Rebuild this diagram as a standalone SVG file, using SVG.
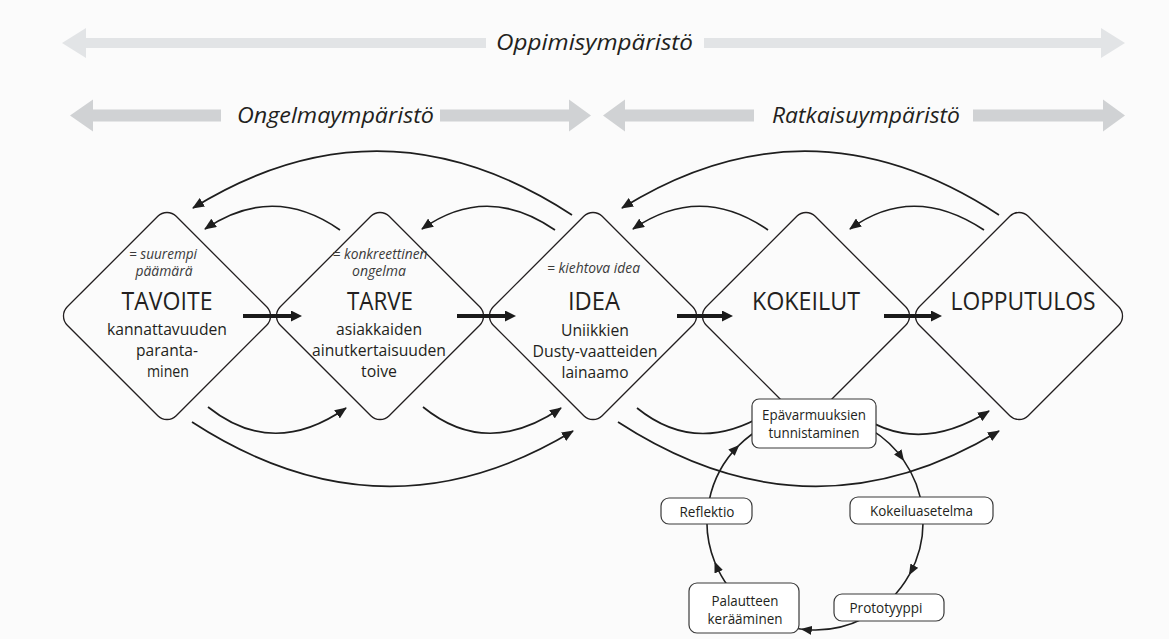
<svg xmlns="http://www.w3.org/2000/svg" width="1169" height="639" viewBox="0 0 1169 639">
  <defs>
    <style>
      text { font-family: "Open Sans", "Liberation Sans", sans-serif; fill: #231f20; text-anchor: middle; }
      .env-light { fill: #e2e4e6; }
      .env-dark { fill: #d0d2d4; }
      .t-env { font-size: 21px; font-style: italic; }
      .dia { fill: none; stroke: #231f20; stroke-width: 1.3; }
      .t-title { font-size: 26px; }
      .t-sub { font-size: 14px; font-style: italic; fill: #3a3a3a; }
      .t-body { font-size: 17px; }
      .arc { fill: none; stroke: #1e1e1e; stroke-width: 1.7; marker-end: url(#tip); }
      .cyc { fill: none; stroke: #1e1e1e; stroke-width: 1.6; marker-end: url(#tipS); }
      .flow { stroke: #1a1a1a; stroke-width: 4; marker-end: url(#flowHead); }
      .box { fill: #ffffff; stroke: #3a3a3a; stroke-width: 1.2; }
      .t-box { font-size: 14px; }
    </style>
    <marker id="tip" viewBox="0 0 12 10" refX="11" refY="5" markerWidth="12" markerHeight="10" orient="auto" markerUnits="userSpaceOnUse">
      <path d="M0,0 L12,5 L0,10 z" fill="#1e1e1e"/>
    </marker>
    <marker id="tipS" viewBox="0 0 11 9" refX="10" refY="4.5" markerWidth="11" markerHeight="9" orient="auto" markerUnits="userSpaceOnUse">
      <path d="M0,0 L11,4.5 L0,9 z" fill="#1e1e1e"/>
    </marker>
    <marker id="flowHead" viewBox="0 0 11 11" refX="0" refY="5.5" markerWidth="11" markerHeight="11" orient="auto" markerUnits="userSpaceOnUse">
      <path d="M0,0 L11,5.5 L0,11 z" fill="#1a1a1a"/>
    </marker>
  </defs>

  <rect width="1169" height="639" fill="#fbfbfb"/>

  <!-- environment bands -->
  <g id="env-oppimisymparisto">
    <polygon class="env-light" points="62,43 86,28 86,38 486,38 486,48 86,48 86,58"/>
    <polygon class="env-light" points="704,38 1101,38 1101,28 1125,43 1101,58 1101,48 704,48"/>
    <text class="t-env" x="594.5" y="50" textLength="197" lengthAdjust="spacingAndGlyphs">Oppimisympäristö</text>
  </g>
  <g id="env-ongelmaymparisto">
    <polygon class="env-dark" points="70,115.5 93,99.5 93,109.5 221,109.5 221,121.5 93,121.5 93,131.5"/>
    <polygon class="env-dark" points="440,109.5 569,109.5 569,99.5 591,115.5 569,131.5 569,121.5 440,121.5"/>
    <text class="t-env" x="335.5" y="122.5" textLength="197" lengthAdjust="spacingAndGlyphs">Ongelmaympäristö</text>
  </g>
  <g id="env-ratkaisuymparisto">
    <polygon class="env-dark" points="603,115.5 625,99.5 625,109.5 754,109.5 754,121.5 625,121.5 625,131.5"/>
    <polygon class="env-dark" points="973,109.5 1103,109.5 1103,99.5 1125,115.5 1103,131.5 1103,121.5 973,121.5"/>
    <text class="t-env" x="866" y="122.5" textLength="188" lengthAdjust="spacingAndGlyphs">Ratkaisuympäristö</text>
  </g>

  <!-- phase diamonds -->
  <g id="node-tavoite">
    <rect class="dia" x="-77" y="-77" width="154" height="154" rx="13" transform="translate(167,316) rotate(45)"/>
    <text class="t-sub" x="163" y="259" textLength="68" lengthAdjust="spacingAndGlyphs">= suurempi</text>
    <text class="t-sub" x="164" y="276" textLength="57" lengthAdjust="spacingAndGlyphs">päämärä</text>
    <text class="t-title" x="167" y="310" textLength="91" lengthAdjust="spacingAndGlyphs">TAVOITE</text>
    <text class="t-body" x="167" y="335" textLength="120" lengthAdjust="spacingAndGlyphs">kannattavuuden</text>
    <text class="t-body" x="167" y="356" textLength="62" lengthAdjust="spacingAndGlyphs">paranta-</text>
    <text class="t-body" x="168" y="377" textLength="42" lengthAdjust="spacingAndGlyphs">minen</text>
  </g>
  <g id="node-tarve">
    <rect class="dia" x="-77" y="-77" width="154" height="154" rx="13" transform="translate(380,316) rotate(45)"/>
    <text class="t-sub" x="380" y="259" textLength="95" lengthAdjust="spacingAndGlyphs">= konkreettinen</text>
    <text class="t-sub" x="379" y="276" textLength="54" lengthAdjust="spacingAndGlyphs">ongelma</text>
    <text class="t-title" x="380" y="310" textLength="66" lengthAdjust="spacingAndGlyphs">TARVE</text>
    <text class="t-body" x="379" y="335" textLength="86" lengthAdjust="spacingAndGlyphs">asiakkaiden</text>
    <text class="t-body" x="379" y="356" textLength="134" lengthAdjust="spacingAndGlyphs">ainutkertaisuuden</text>
    <text class="t-body" x="379" y="377" textLength="36" lengthAdjust="spacingAndGlyphs">toive</text>
  </g>
  <g id="node-idea">
    <rect class="dia" x="-77" y="-77" width="154" height="154" rx="13" transform="translate(593,316) rotate(45)"/>
    <text class="t-sub" x="593.5" y="273" textLength="93" lengthAdjust="spacingAndGlyphs">= kiehtova idea</text>
    <text class="t-title" x="594" y="310" textLength="52" lengthAdjust="spacingAndGlyphs">IDEA</text>
    <text class="t-body" x="595" y="336" textLength="68" lengthAdjust="spacingAndGlyphs">Uniikkien</text>
    <text class="t-body" x="595" y="357" textLength="125" lengthAdjust="spacingAndGlyphs">Dusty-vaatteiden</text>
    <text class="t-body" x="595" y="378" textLength="67" lengthAdjust="spacingAndGlyphs">lainaamo</text>
  </g>
  <g id="node-kokeilut">
    <rect class="dia" x="-77" y="-77" width="154" height="154" rx="13" transform="translate(806,316) rotate(45)"/>
    <text class="t-title" x="806" y="310" textLength="108" lengthAdjust="spacingAndGlyphs">KOKEILUT</text>
  </g>
  <g id="node-lopputulos">
    <rect class="dia" x="-77" y="-77" width="154" height="154" rx="13" transform="translate(1019,316) rotate(45)"/>
    <text class="t-title" x="1023" y="310" textLength="145" lengthAdjust="spacingAndGlyphs">LOPPUTULOS</text>
  </g>

  <!-- connectors -->
  <g id="connectors">
    <!-- forward flow between phases -->
    <line class="flow" x1="243" y1="316" x2="291" y2="316"/>
    <line class="flow" x1="457" y1="316" x2="505" y2="316"/>
    <line class="flow" x1="677" y1="316" x2="722" y2="316"/>
    <line class="flow" x1="884" y1="316" x2="931" y2="316"/>

    <!-- feedback loops above -->
    <path class="arc" d="M340,230 Q273,183 205,229"/>
    <path class="arc" d="M555,230 Q487,183 422,229"/>
    <path class="arc" d="M768,230 Q700,183 633,229"/>
    <path class="arc" d="M984,230 Q913,183 850,229"/>
    <path class="arc" d="M572,215 Q382,91 193,208"/>
    <path class="arc" d="M999,215 Q810,91 622,208"/>

    <!-- feed-forward loops below -->
    <path class="arc" d="M208,407 Q273,459 346,408"/>
    <path class="arc" d="M423,407 Q487,459 561,408"/>
    <path d="M637,408 Q700,459 775,408" fill="none" stroke="#1e1e1e" stroke-width="1.7"/>
    <path class="arc" d="M850,408 Q913,459 989,411"/>
    <path class="arc" d="M192,422 Q383,546 573,431"/>
    <path class="arc" d="M618,422 Q809,546 999,431"/>

    <!-- experimentation cycle -->
    <path class="cyc" d="M801.8,629.2 A108,108 0 0 1 714.9,562.5"/>
    <path class="cyc" d="M714.9,562.5 A108,108 0 0 1 738.6,445.6"/>
    <path class="cyc" d="M738.6,445.6 A108,108 0 0 1 903.5,460.1"/>
    <path class="cyc" d="M903.5,460.1 A108,108 0 0 1 909.5,574.4"/>
    <path class="cyc" d="M909.5,574.4 A108,108 0 0 1 801.8,629.2"/>
  </g>

  <!-- experimentation cycle steps -->
  <g id="node-epavarmuuksien">
    <rect class="box" x="752" y="399" width="124" height="49" rx="7"/>
    <text class="t-box" x="814" y="420" textLength="104" lengthAdjust="spacingAndGlyphs">Epävarmuuksien</text>
    <text class="t-box" x="814" y="438" textLength="91" lengthAdjust="spacingAndGlyphs">tunnistaminen</text>
  </g>
  <g id="node-kokeiluasetelma">
    <rect class="box" x="850" y="497" width="143" height="27" rx="8"/>
    <text class="t-box" x="921.5" y="516" textLength="103" lengthAdjust="spacingAndGlyphs">Kokeiluasetelma</text>
  </g>
  <g id="node-prototyyppi">
    <rect class="box" x="834" y="594" width="110" height="27" rx="8"/>
    <text class="t-box" x="886" y="613" textLength="73" lengthAdjust="spacingAndGlyphs">Prototyyppi</text>
  </g>
  <g id="node-palautteen">
    <rect class="box" x="689" y="583" width="110" height="50" rx="8"/>
    <text class="t-box" x="745" y="606" textLength="67" lengthAdjust="spacingAndGlyphs">Palautteen</text>
    <text class="t-box" x="745" y="624" textLength="75" lengthAdjust="spacingAndGlyphs">kerääminen</text>
  </g>
  <g id="node-reflektio">
    <rect class="box" x="661" y="498" width="91" height="26" rx="8"/>
    <text class="t-box" x="707" y="516.5" textLength="55" lengthAdjust="spacingAndGlyphs">Reflektio</text>
  </g>
</svg>
